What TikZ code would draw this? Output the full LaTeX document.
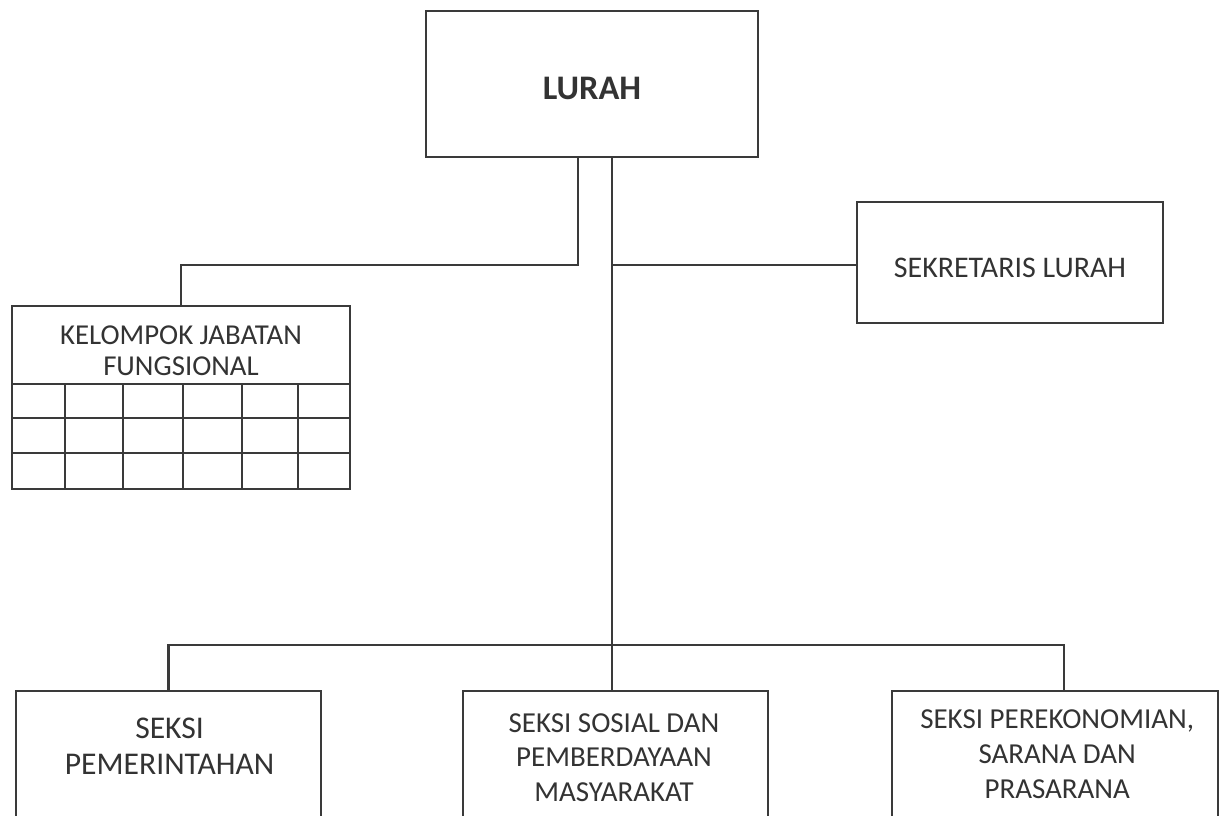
\documentclass[tikz,border=0pt]{standalone}
\usepackage{fontspec}
\setmainfont{Carlito}
\definecolor{linecol}{HTML}{3A3A3A}
\definecolor{txtcol}{HTML}{333333}
\begin{document}
\begin{tikzpicture}[box/.style={rectangle, draw=linecol, line width=1.8pt, outer sep=0pt, fill=white},
  con/.style={draw=linecol, line width=1.8pt},
  lbl/.style={align=center, text=txtcol, font=\fontsize{20.6}{24.8}\selectfont}]

\useasboundingbox (0,0) rectangle (30.625,-20.375);

\draw (14.8,-2.1) node (lurah) [box, minimum width=8.3cm, minimum height=3.65cm] {};
\draw (lurah) ++(0,-0.12) node [lbl, font=\bfseries\fontsize{24.5}{24.5}\selectfont] {LURAH};

\draw (25.25,-6.5625) node (sek) [box, minimum width=7.65cm, minimum height=3.025cm] {};
\draw (sek) ++(0,-0.14) node [lbl, font=\fontsize{21.3}{21.3}\selectfont] {SEKRETARIS LURAH};

\draw (4.525,-8.625) node (kjf) [box, minimum width=8.45cm, minimum height=1.95cm] {};
\draw (4.525,-8.76) node [lbl, font=\fontsize{20.5}{22}\selectfont] {KELOMPOK JABATAN\\FUNGSIONAL};

\draw [con] (kjf.south west) rectangle (kjf.east |- 0,-12.225);
\draw [con] (kjf.west |- 0,-10.45) -- (kjf.east |- 0,-10.45);
\draw [con] (kjf.west |- 0,-11.325) -- (kjf.east |- 0,-11.325);
\foreach \x in {1.625, 3.075, 4.575, 6.05, 7.45}
  \draw [con] (\x,-9.6) -- (\x,-12.225);

\draw (4.2125,-19.1375) node (pem) [box, minimum width=7.625cm, minimum height=3.725cm] {};
\draw (4.24,-18.66) node [lbl, font=\fontsize{22.5}{26}\selectfont] {SEKSI\\PEMERINTAHAN};

\draw (15.3875,-19.1375) node (sos) [box, minimum width=7.625cm, minimum height=3.725cm] {};
\draw (15.35,-18.94) node [lbl] {SEKSI SOSIAL DAN\\PEMBERDAYAAN\\MASYARAKAT};

\draw (26.375,-19.1375) node (eko) [box, minimum width=8.15cm, minimum height=3.725cm] {};
\draw (26.43,-18.85) node [lbl] {SEKSI PEREKONOMIAN,\\SARANA DAN\\PRASARANA};

\coordinate (lc) at (14.45,-6.625);
\coordinate (mc) at (15.3,-6.625);
\coordinate (bus) at (0,-16.125);
\coordinate (br) at (26.6,-16.125);

\draw [con] (lurah.south -| lc) -- (lc) -| (kjf.north);
\draw [con] (lurah.south -| mc) -- (mc |- bus);
\draw [con] (mc) -- (sek.west |- mc);

\draw [con] (pem.north) -- (pem.north |- bus) -- (br) -- (br |- eko.north);
\draw [con] (mc |- bus) -- (mc |- sos.north);

\end{tikzpicture}
\end{document}
